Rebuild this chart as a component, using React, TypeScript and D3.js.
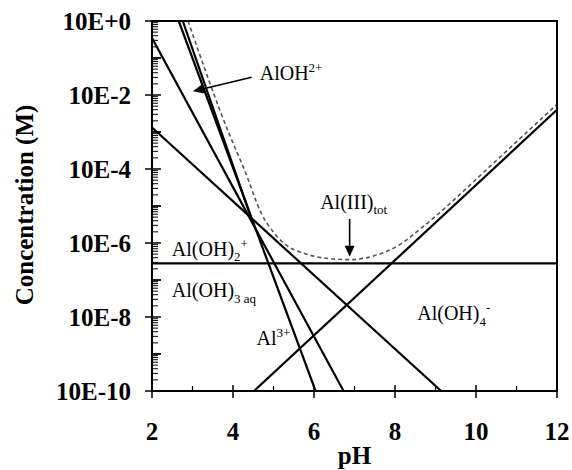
import React from 'react';
import * as d3 from 'd3';

// axis values
const phTicks = [2, 4, 6, 8, 10, 12];
const phMinorTicks = [3, 5, 7, 9, 11];
const concTicks = [0, -2, -4, -6, -8, -10]; // log10 of concentration
const concTickLabels = ['10E+0', '10E-2', '10E-4', '10E-6', '10E-8', '10E-10'];
const minorMantissas = [2, 3, 4, 5, 6, 7, 8, 9];

// species as [pH, log10 C]
const al3 = [[2.66, 0], [6.04, -10]];
const alOH = [[2, -0.46], [6.73, -10]];
const alOH2 = [[2, -2.88], [9.14, -10]];
const alOH3 = [[2, -6.55], [12, -6.55]];
const alOH4 = [[4.52, -10], [12, -2.4]];
const alSteep = [[2.76, 0], [4.41, -5.2]];
const alTot = [
  [2.89, 0], [3.92, -3.09], [4.29, -4.04], [4.7, -5.2], [5.03, -5.75],
  [5.4, -6.12], [5.65, -6.24], [6.21, -6.4], [6.88, -6.45], [7.44, -6.36],
  [8.03, -6.1], [8.67, -5.58], [9.34, -4.95], [10.08, -4.2], [12, -2.25],
];

const W = 572;
const H = 470;
const serif = "'Liberation Serif', 'Times New Roman', serif";

function Arrow({ x1, y1, x2, y2 }: { x1: number; y1: number; x2: number; y2: number }) {
  const a = Math.atan2(y2 - y1, x2 - x1);
  const len = 11, hw = 5;
  const bx = x2 - len * Math.cos(a), by = y2 - len * Math.sin(a);
  const pts = [
    [x2, y2],
    [bx + hw * Math.sin(a), by - hw * Math.cos(a)],
    [bx - hw * Math.sin(a), by + hw * Math.cos(a)],
  ];
  return (
    <g>
      <line x1={x1} y1={y1} x2={bx} y2={by} stroke="#000" strokeWidth={1.6} />
      <polygon points={pts.map(p => p.join(',')).join(' ')} fill="#000" />
    </g>
  );
}

export default function App() {
  const x = d3.scaleLinear().domain([2, 12]).range([152, 557]);
  const y = d3.scaleLog().domain([1e-10, 1]).range([391, 21]);
  const yl = (v: number) => y(Math.pow(10, v));

  const line = d3.line<number[]>().x(d => x(d[0])).y(d => yl(d[1]));
  const curve = d3.line<number[]>().x(d => x(d[0])).y(d => yl(d[1])).curve(d3.curveMonotoneX);

  // log minor ticks: mantissas 2..9 in every decade, plus unlabelled decades
  const decades = d3.range(-10, 0);
  const minorY = decades.flatMap(e => minorMantissas.map(m => m * Math.pow(10, e)));
  const oddDecades = decades.filter(e => !concTicks.includes(e));

  const solids = [al3, alOH, alOH2, alOH3, alOH4, alSteep];
  const x0 = x(2);

  return (
    <svg width={W} height={H} style={{ position: 'absolute', left: 0, top: 0, background: '#fff' }}>
      {/* y minor ticks inside */}
      {minorY.map((t, i) => (
        <line key={'ym' + i} x1={x0} x2={x0 + 6} y1={y(t)} y2={y(t)} stroke="#000" strokeWidth={1} />
      ))}
      {oddDecades.map(e => (
        <line key={'yd' + e} x1={x0} x2={x0 + 9} y1={yl(e)} y2={yl(e)} stroke="#000" strokeWidth={1.8} />
      ))}
      {/* y major ticks */}
      {concTicks.map((v, i) => (
        <g key={'yt' + i}>
          <line x1={x0 - 7} x2={x0 + 9} y1={yl(v)} y2={yl(v)} stroke="#000" strokeWidth={1.5} />
          <text x={131} y={yl(v) + 9} textAnchor="end" fontFamily={serif} fontWeight="bold" fontSize={25}>
            {concTickLabels[i]}
          </text>
        </g>
      ))}
      {/* x ticks */}
      {phMinorTicks.map(v => (
        <line key={'xm' + v} x1={x(v)} x2={x(v)} y1={y(1e-10) - 5} y2={y(1e-10)} stroke="#000" strokeWidth={1.2} />
      ))}
      {phTicks.map(v => (
        <g key={'xt' + v}>
          <line x1={x(v)} x2={x(v)} y1={y(1e-10) - 6} y2={y(1e-10) + 7} stroke="#000" strokeWidth={1.5} />
          <text x={x(v)} y={440} textAnchor="middle" fontFamily={serif} fontWeight="bold" fontSize={25}>{v}</text>
        </g>
      ))}

      {/* species lines */}
      {solids.map((d, i) => (
        <path key={'s' + i} d={line(d) || ''} fill="none" stroke="#000" strokeWidth={2.2} />
      ))}
      <path d={curve(alTot) || ''} fill="none" stroke="#555" strokeWidth={1.6} strokeDasharray="4 3" />

      {/* frame */}
      <rect x={x(2)} y={y(1)} width={x(12) - x(2)} height={y(1e-10) - y(1)} fill="none" stroke="#000" strokeWidth={2} />

      {/* labels */}
      <g fontFamily={serif} fontSize={20}>
        <text x={x(4.66)} y={yl(-1.6)}>AlOH<tspan dy={-8} fontSize={13}>2+</tspan></text>
        <text x={x(2.49)} y={yl(-6.34)}>Al(OH)<tspan dy={5} fontSize={13}>2</tspan><tspan dy={-13} fontSize={13}>+</tspan></text>
        <text x={x(2.49)} y={yl(-7.45)}>Al(OH)<tspan dy={6} fontSize={13}>3 aq</tspan></text>
        <text x={x(4.58)} y={yl(-8.75)}>Al<tspan dy={-8} fontSize={13}>3+</tspan></text>
        <text x={x(8.55)} y={yl(-8.08)}>Al(OH)<tspan dy={6} fontSize={13}>4</tspan><tspan dy={-14} fontSize={13}>-</tspan></text>
        <text x={x(6.98)} y={yl(-5.07)} textAnchor="middle">Al(III)<tspan dy={5} fontSize={13}>tot</tspan></text>
      </g>
      <Arrow x1={x(4.46)} y1={yl(-1.52)} x2={x(3.01)} y2={yl(-1.9)} />
      <Arrow x1={x(6.88)} y1={yl(-5.35)} x2={x(6.88)} y2={yl(-6.37)} />

      {/* axis titles */}
      <text transform="translate(33,205) rotate(-90)" textAnchor="middle" fontFamily={serif} fontWeight="bold" fontSize={25}>
        Concentration (M)
      </text>
      <text x={(x(2) + x(12)) / 2} y={464} textAnchor="middle" fontFamily={serif} fontWeight="bold" fontSize={25}>pH</text>
    </svg>
  );
}
